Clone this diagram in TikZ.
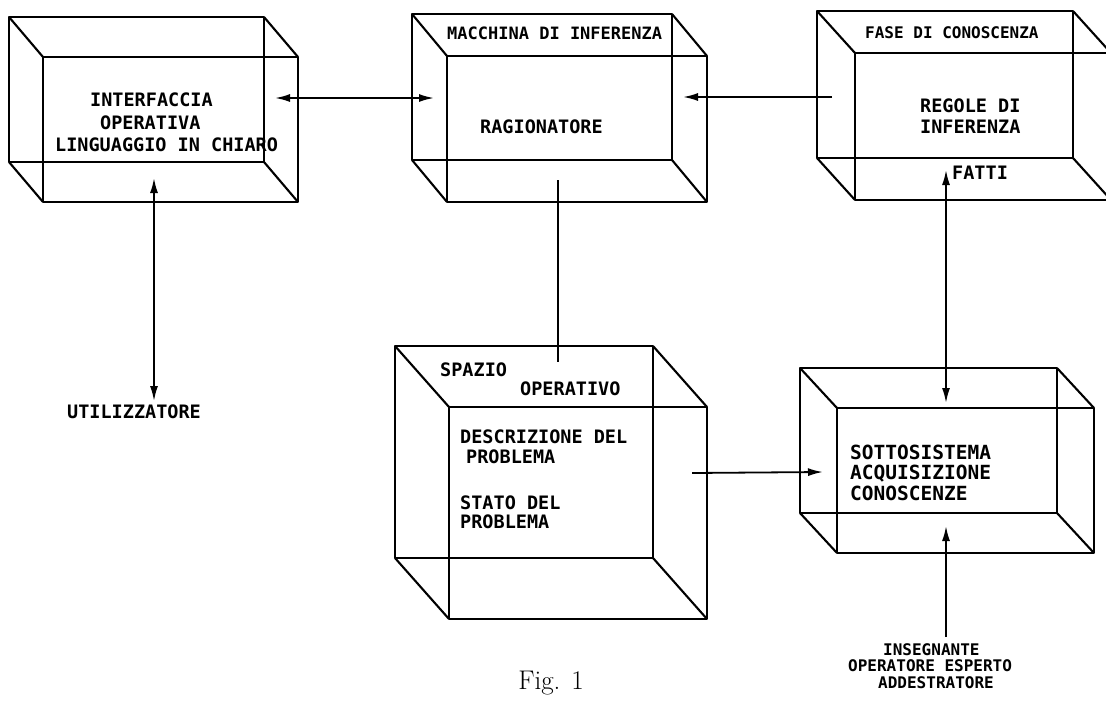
\documentclass[tikz,border=0pt]{standalone}
\usepackage{fontspec}
\newfontfamily\twfont{DejaVu Sans Mono}
\usetikzlibrary{arrows.meta}
\newcommand\wirecube[7]{%
  \coordinate (#1-btl) at (#2,#3);
  \coordinate (#1-bbr) at (#4,#5);
  \coordinate (#1-ftl) at ({#2+#6},{#3+#7});
  \coordinate (#1-fbr) at ({#4+#6},{#5+#7});
  \draw[boxline] (#2,#3) rectangle (#4,#5);
  \draw[boxline] ({#2+#6},{#3+#7}) rectangle ({#4+#6},{#5+#7});
  \draw[boxline] (#2,#3) -- ++(#6,#7);
  \draw[boxline] (#4,#3) -- ++(#6,#7);
  \draw[boxline] (#2,#5) -- ++(#6,#7);
  \draw[boxline] (#4,#5) -- ++(#6,#7);
}
\begin{document}
\begin{tikzpicture}[x=1pt,y=-1pt,
  boxline/.style={line width=2.1pt, line join=round},
  conn/.style={line width=1.8pt},
  tipone/.style={conn,-{Latex[length=15pt,width=8pt]}},
  tiptwo/.style={conn,{Latex[length=15pt,width=8pt]}-{Latex[length=15pt,width=8pt]}},
  lbl/.style={font=\twfont\bfseries\fontsize{18.5}{22}\selectfont, inner sep=0pt, anchor=west, text height=13.5pt, text depth=0pt},
  lblsm/.style={lbl, font=\twfont\bfseries\fontsize{17}{20}\selectfont, text height=12.4pt},
  lblxs/.style={lbl, font=\twfont\bfseries\fontsize{16}{18}\selectfont, text height=11.7pt},
  lblbig/.style={lbl, font=\twfont\bfseries\fontsize{19.5}{22}\selectfont, text height=14.2pt}]
\useasboundingbox (0,0) rectangle (1106,707);
\clip (0,0) rectangle (1106,707);

% boxes
\wirecube{b1}{9}{17}{264}{162}{34}{40}
\wirecube{b2}{412}{14}{672}{160}{35}{42}
\wirecube{b3}{817}{11}{1073}{158}{38}{42}
\wirecube{b4}{395}{346}{653}{558}{54}{61}
\wirecube{b5}{800}{368}{1057}{513}{37}{40}

% box 1 text
\node[lbl] (t1a) at (90,100) {INTERFACCIA};
\node[lbl] (t1b) at (100,123) {OPERATIVA};
\node[lbl] (t1c) at (55,145) {LINGUAGGIO IN CHIARO};

% box 2 text
\node[lblsm] (t2a) at (447,33) {MACCHINA DI INFERENZA};
\node[lbl] (t2b) at (480,127) {RAGIONATORE};

% box 3 text
\node[lblxs] (t3a) at (865,33) {FASE DI CONOSCENZA};
\node[lbl] (t3b) at (920,106) {REGOLE DI};
\node[lbl] (t3c) at (920,127) {INFERENZA};
\node[lbl] (t3d) at (952,173) {FATTI};

% box 4 text
\node[lbl] (t4a) at (440,370) {SPAZIO};
\node[lbl] (t4b) at (520,389) {OPERATIVO};
\node[lbl] (t4c) at (460,437) {DESCRIZIONE DEL};
\node[lbl] (t4d) at (466,457) {PROBLEMA};
\node[lbl] (t4e) at (460,503) {STATO DEL};
\node[lbl] (t4f) at (460,522) {PROBLEMA};

% box 5 text
\node[lblbig] (t5a) at (850,452) {SOTTOSISTEMA};
\node[lblbig] (t5b) at (850,472) {ACQUISIZIONE};
\node[lblbig] (t5c) at (850,493) {CONOSCENZE};

% outside labels
\node[lbl] (user) at (67,412) {UTILIZZATORE};
\node[lblxs] (ins1) at (883,650) {INSEGNANTE};
\node[lblxs] (ins2) at (848,666) {OPERATORE ESPERTO};
\node[lblxs] (ins3) at (878,683) {ADDESTRATORE};
\node[font=\fontsize{27}{30}\selectfont, inner sep=0pt] (fig) at (551,683) {Fig. 1};

% connector end points
\coordinate (c1a) at (275,98);
\coordinate (c1b) at (434,98);
\coordinate (c2a) at (832,97);
\coordinate (c2b) at (683,97);
\coordinate (c3a) at (154,178);
\coordinate (c3b) at (154,401);
\coordinate (c4a) at (558,180);
\coordinate (c4b) at (558,362);
\coordinate (c5a) at (946,170);
\coordinate (c5b) at (946,403);
\coordinate (c6a) at (692,473);
\coordinate (c6b) at (823,472);
\coordinate (c7a) at (946,637);
\coordinate (c7b) at (946,526);

% connectors
\draw[tiptwo] (c1a) -- (c1b);
\draw[tipone] (c2a) -- (c2b);
\draw[tiptwo] (c3a) -- (c3b);
\draw[conn] (c4a) -- (c4b);
\draw[tiptwo] (c5a) -- (c5b);
\draw[tipone] (c6a) -- (c6b);
\draw[tipone] (c7a) -- (c7b);
\end{tikzpicture}
\end{document}
